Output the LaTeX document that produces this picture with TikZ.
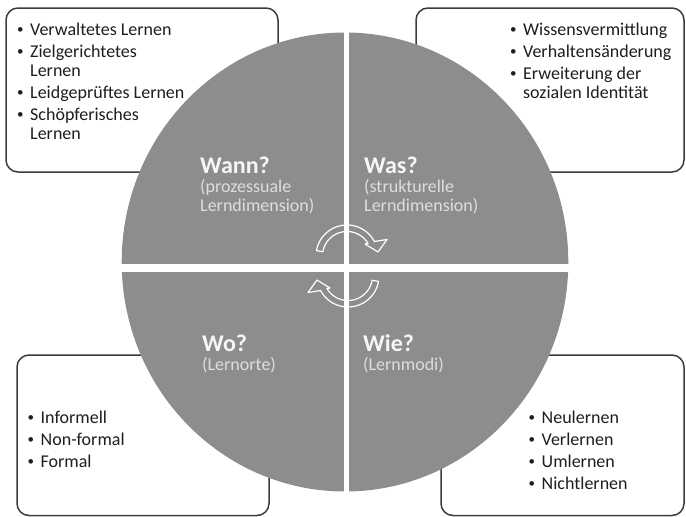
\documentclass[tikz,border=0pt]{standalone}
\usepackage{fontspec}
\setmainfont{Carlito}
\usepackage{tikz}
\usetikzlibrary{positioning}
\tikzset{>=stealth}
\definecolor{quadgray}{RGB}{141,141,141}
\definecolor{framegray}{RGB}{60,60,60}
\definecolor{subgray}{RGB}{222,222,222}
\definecolor{headwhite}{RGB}{246,246,246}
\definecolor{listblack}{RGB}{30,30,30}
\newcommand{\listdot}{\makebox[14.5pt][l]{\hspace{1.5pt}\raisebox{1.2pt}{\fontsize{13}{13}\selectfont\textbullet}}}

\begin{document}
\begin{tikzpicture}[x=1pt, y=-1pt,
    listframe/.style={draw=framegray, line width=1.5pt, rounded corners=12pt, fill=white},
    listtext/.style={anchor=base west, inner sep=0pt, text=listblack, font=\fontsize{18}{22}\selectfont},
    quadtext/.style={anchor=base west, inner sep=0pt, text=headwhite, font=\fontsize{18}{19}\selectfont},
    turnarrow/.style={draw=white, line width=1.2pt, line join=round}]
    \useasboundingbox (0,0) rectangle (686,517);

    % list frames, lying under the disc
    \draw[listframe] (6,8) rectangle (278,172);
    \draw[listframe] (416,8) rectangle (684,172);
    \draw[listframe] (17,355) rectangle (269,515.5);
    \draw[listframe] (441,355) rectangle (684,515.5);

    % disc cut into four quarters
    \fill[quadgray] (345,262) ellipse [x radius=223.3pt, y radius=229.5pt];
    \fill[white] (344,25) rectangle (349,500);
    \fill[white] (115,264) rectangle (575,272);

    % turning arrows in the middle
    \draw[turnarrow] plot[domain=190:332.1, samples=40] ({347+31*cos(\x)}, {256+31*sin(\x)})
        -- (387,239.5) -- (378,252) -- (365,244)
        -- plot[domain=329.3:190, samples=40] ({347+24.5*cos(\x)}, {256+24.5*sin(\x)}) -- cycle;
    \draw[turnarrow] plot[domain=10:152.1, samples=40] ({348+31*cos(\x)}, {276+31*sin(\x)})
        -- (308,292.5) -- (317,280) -- (330,288)
        -- plot[domain=149.3:10, samples=40] ({348+24.5*cos(\x)}, {276+24.5*sin(\x)}) -- cycle;

    % quarter titles
    \node[quadtext] (wann) at (200,173) {\begin{tabular}[t]{@{}l@{}}
        {\fontsize{24}{24}\selectfont\bfseries Wann?}\\
        \color{subgray}(prozessuale\\
        \color{subgray}Lerndimension)
    \end{tabular}};
    \node[quadtext] (was) at (364,173) {\begin{tabular}[t]{@{}l@{}}
        {\fontsize{24}{24}\selectfont\bfseries Was?}\\
        \color{subgray}(strukturelle\\
        \color{subgray}Lerndimension)
    \end{tabular}};
    \node[quadtext] (wo) at (202,351) {\begin{tabular}[t]{@{}l@{}}
        {\fontsize{24}{24}\selectfont\bfseries Wo?}\\
        \color{subgray}(Lernorte)
    \end{tabular}};
    \node[quadtext] (wie) at (363,351) {\begin{tabular}[t]{@{}l@{}}
        {\fontsize{24}{24}\selectfont\bfseries Wie?}\\
        \color{subgray}(Lernmodi)
    \end{tabular}};

    % bullet lists
    \node[listtext] (wannlist) at (15.5,35) {\begin{tabular}[t]{@{}l@{}l@{}}
        \listdot & Verwaltetes Lernen\\
        \listdot & Zielgerichtetes\\[-3pt]
                 & Lernen\\
        \listdot & Leidgeprüftes Lernen\\
        \listdot & Schöpferisches\\[-3pt]
                 & Lernen
    \end{tabular}};
    \node[listtext] (waslist) at (508.5,35) {\begin{tabular}[t]{@{}l@{}l@{}}
        \listdot & Wissensvermittlung\\
        \listdot & Verhaltensänderung\\
        \listdot & Erweiterung der\\[-3pt]
                 & sozialen Identität
    \end{tabular}};
    \node[listtext] (wolist) at (26,423) {\begin{tabular}[t]{@{}l@{}l@{}}
        \listdot & Informell\\
        \listdot & Non-formal\\
        \listdot & Formal
    \end{tabular}};
    \node[listtext] (wielist) at (527,423) {\begin{tabular}[t]{@{}l@{}l@{}}
        \listdot & Neulernen\\
        \listdot & Verlernen\\
        \listdot & Umlernen\\
        \listdot & Nichtlernen
    \end{tabular}};
\end{tikzpicture}
\end{document}
